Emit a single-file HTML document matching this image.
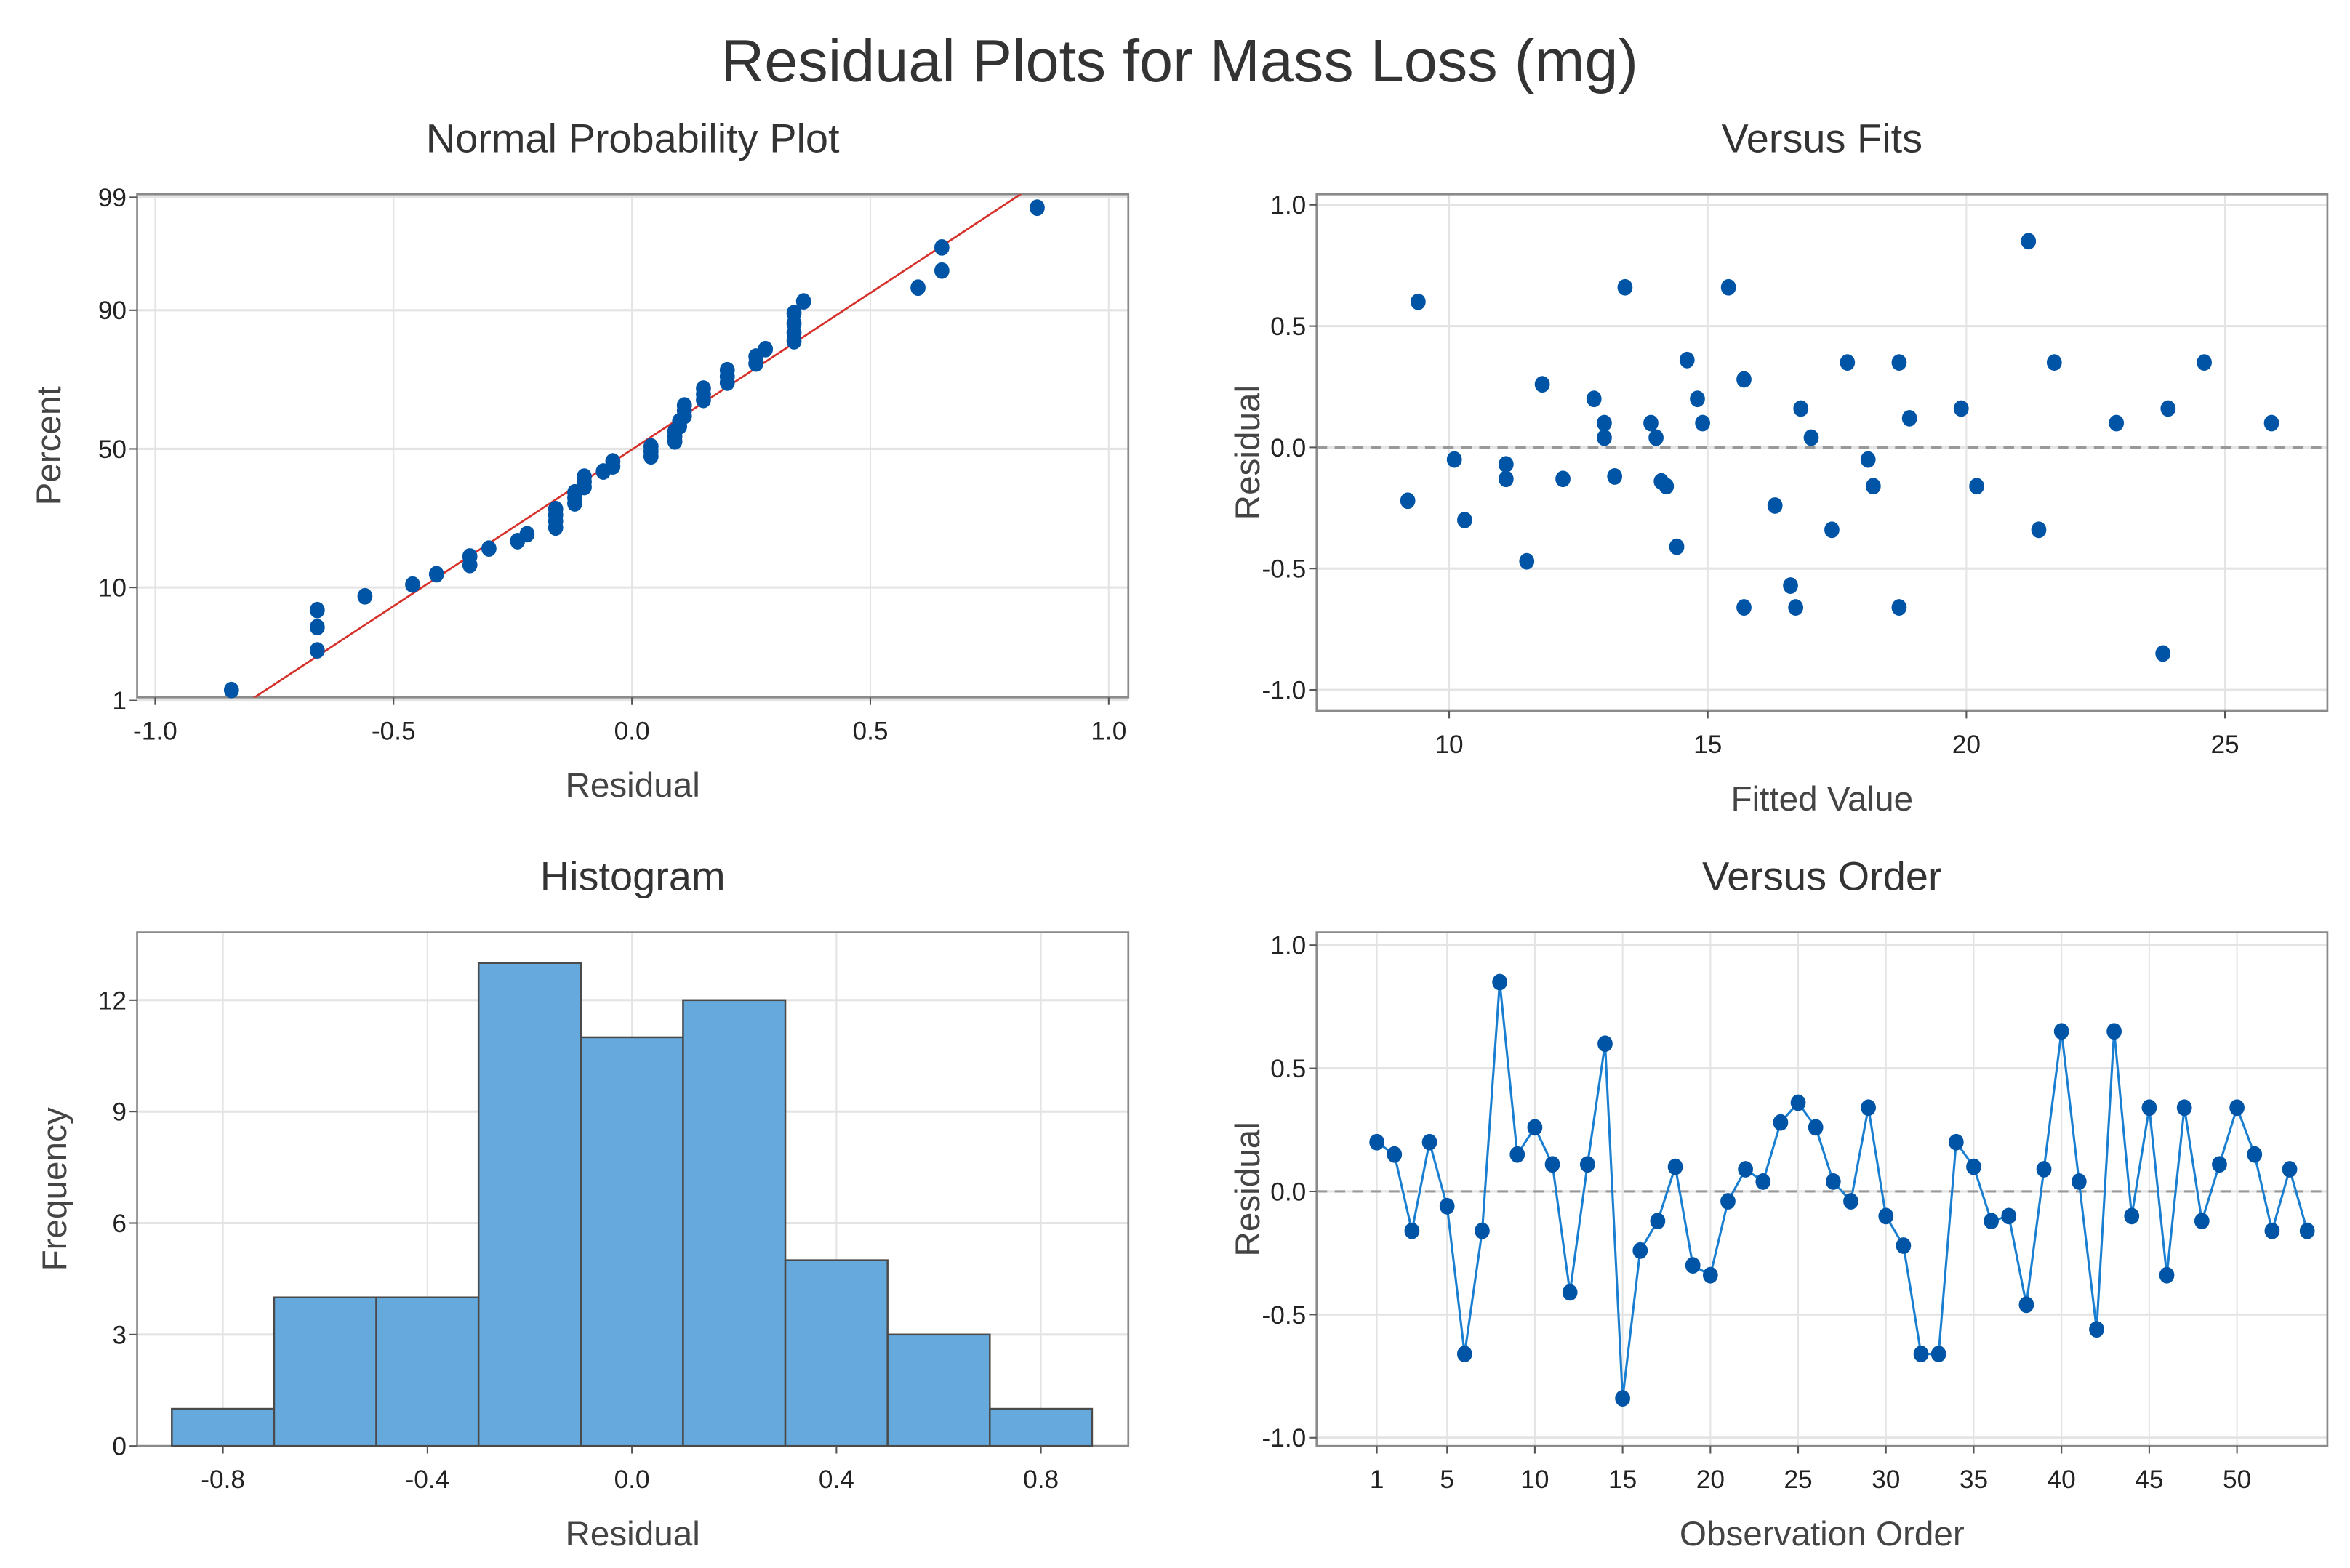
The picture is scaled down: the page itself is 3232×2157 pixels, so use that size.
<!DOCTYPE html>
<html><head><meta charset="utf-8"><style>
html,body{margin:0;padding:0;background:#fff;}
svg{display:block;font-family:"Liberation Sans",sans-serif;}
</style></head><body>
<svg id="root" width="3232" height="2157" viewBox="0 0 1560 1041" preserveAspectRatio="none" xmlns="http://www.w3.org/2000/svg">
<text x="783" y="54" text-anchor="middle" font-size="40" fill="#333">Residual Plots for Mass Loss (mg)</text>
<g id="g"></g>
</svg>
<script>
// ---- data ----
const residuals = [0.20,0.15,-0.16,0.20,-0.06,-0.66,-0.16,0.85,0.15,0.26,0.11,-0.41,0.11,0.60,-0.84,-0.24,-0.12,0.10,-0.30,-0.34,-0.04,0.09,0.04,0.28,0.36,0.26,0.04,-0.04,0.34,-0.10,-0.22,-0.66,-0.66,0.20,0.10,-0.12,-0.10,-0.46,0.09,0.65,0.04,-0.56,0.65,-0.10,0.34,-0.34,0.34,-0.12,0.11,0.34,0.15,-0.16,0.09,-0.16];
const fitX = [9.2,9.4,10.1,10.3,11.1,11.1,11.5,11.8,12.2,12.8,13.0,13.0,13.2,13.4,13.9,14.0,14.1,14.2,14.4,14.6,14.8,14.9,15.4,15.7,15.7,16.3,16.6,16.7,16.8,17.0,17.4,17.7,18.1,18.2,18.7,18.7,18.9,19.9,20.2,21.2,21.4,21.7,22.9,23.8,23.9,24.6,25.9];
const fitY = [-0.22,0.60,-0.05,-0.30,-0.07,-0.13,-0.47,0.26,-0.13,0.20,0.10,0.04,-0.12,0.66,0.10,0.04,-0.14,-0.16,-0.41,0.36,0.20,0.10,0.66,0.28,-0.66,-0.24,-0.57,-0.66,0.16,0.04,-0.34,0.35,-0.05,-0.16,0.35,-0.66,0.12,0.16,-0.16,0.85,-0.34,0.35,0.10,-0.85,0.16,0.35,0.10];
const histEdges = [-0.9,-0.7,-0.5,-0.3,-0.1,0.1,0.3,0.5,0.7,0.9];
const histCounts = [1,4,4,13,11,12,5,3,1];
const nppXTicks = ["-1.0","-0.5","0.0","0.5","1.0"];
const nppYTicks = [1,10,50,90,99];
const fitsXTicks = [10,15,20,25];
const resTicks = ["1.0","0.5","0.0","-0.5","-1.0"];
const histXTicks = ["-0.8","-0.4","0.0","0.4","0.8"];
const histYTicks = [0,3,6,9,12];
const orderXTicks = [1,5,10,15,20,25,30,35,40,45,50];

const NS="http://www.w3.org/2000/svg";
const G=document.getElementById('g');
function el(tag,attrs,parent){const e=document.createElementNS(NS,tag);for(const k in attrs)e.setAttribute(k,attrs[k]);(parent||G).appendChild(e);return e;}
function txt(s,attrs,parent){const e=el('text',attrs,parent);e.textContent=s;return e;}
const BLUE="#0054a6";
function dot(x,y,name,parent){const d=el('ellipse',{cx:x,cy:y,rx:5,ry:5.5,fill:BLUE},parent);return d;}
function panel(name,L,R,T,B){const g=el('g',{});return g;}
function frame(g,L,R,T,B){const r=el('rect',{x:L,y:T,width:R-L,height:B-T,fill:'none',stroke:'#8a8a8a','stroke-width':1.3},g);}
function vgrid(g,x,T,B){el('line',{x1:x,x2:x,y1:T,y2:B,stroke:'#e4e4e4','stroke-width':1},g);}
function hgrid(g,y,L,R){el('line',{x1:L,x2:R,y1:y,y2:y,stroke:'#e4e4e4','stroke-width':1.5},g);}
function xtick(g,x,B,s){el('line',{x1:x,x2:x,y1:B,y2:B+5,stroke:'#555'},g);const t=txt(s,{x:x,y:B+28,'text-anchor':'middle','font-size':17,fill:'#222'},g);}
function ytick(g,y,L,s){el('line',{x1:L-5,x2:L,y1:y,y2:y,stroke:'#555'},g);const t=txt(s,{x:L-7,y:y+6,'text-anchor':'end','font-size':17,fill:'#222'},g);}
function titles(g,title,xt,yt,L,R,T,B,ytx){
 let t=txt(title,{x:(L+R)/2,y:T-28,'text-anchor':'middle','font-size':27,fill:'#333'},g);
 t=txt(xt,{x:(L+R)/2,y:B+66,'text-anchor':'middle','font-size':23,fill:'#444'},g);
 t=txt(yt,{x:0,y:0,'text-anchor':'middle','font-size':23,fill:'#444',transform:`translate(${ytx},${(T+B)/2}) rotate(-90)`},g);
}
// inverse normal
function invN(p){const a=[-39.69683028665376,220.9460984245205,-275.9285104469687,138.357751867269,-30.66479806614716,2.506628277459239],b=[-54.47609879822406,161.5858368580409,-155.6989798598866,66.80131188771972,-13.28068155288572],c=[-0.007784894002430293,-0.3223964580411365,-2.400758277161838,-2.549732539343734,4.374664141464968,2.938163982698783],d=[0.007784695709041462,0.3224671290700398,2.445134137142996,3.754408661907416];
 const pl=0.02425;let q,r;
 if(p<pl){q=Math.sqrt(-2*Math.log(p));return(((((c[0]*q+c[1])*q+c[2])*q+c[3])*q+c[4])*q+c[5])/((((d[0]*q+d[1])*q+d[2])*q+d[3])*q+1);}
 if(p<=1-pl){q=p-0.5;r=q*q;return(((((a[0]*r+a[1])*r+a[2])*r+a[3])*r+a[4])*r+a[5])*q/(((((b[0]*r+b[1])*r+b[2])*r+b[3])*r+b[4])*r+1);}
 q=Math.sqrt(-2*Math.log(1-p));return-(((((c[0]*q+c[1])*q+c[2])*q+c[3])*q+c[4])*q+c[5])/((((d[0]*q+d[1])*q+d[2])*q+d[3])*q+1);}

// ---- Normal probability plot ----
(function(){const L=91,R=749,T=129,B=463;const g=panel('normal-probability-plot');
 const sx=v=>103+(v+1)*(736-103)/2; const sy=p=>298-invN(p/100)*71.8;
 nppXTicks.forEach(s=>vgrid(g,sx(+s),T,B)); nppYTicks.forEach(p=>hgrid(g,sy(p),L,R));
 frame(g,L,R,T,B);
 nppXTicks.forEach(s=>xtick(g,sx(+s),B,s)); nppYTicks.forEach(p=>ytick(g,sy(p),L,String(p)));
 const n=residuals.length,mean=residuals.reduce((a,b)=>a+b,0)/n;
 const sd=Math.sqrt(residuals.reduce((a,b)=>a+(b-mean)*(b-mean),0)/(n-1));
 const x1=mean+sd*invN(0.005),x2=mean+sd*invN(0.995);
 const cp=el('clipPath',{id:'nppclip'},g);el('rect',{x:L,y:T,width:R-L,height:B-T},cp);
 const ln=el('line',{x1:sx(x1),y1:298-invN(0.005)*71.8,x2:sx(x2),y2:298-invN(0.995)*71.8,stroke:'#d6302a','stroke-width':1.3,'clip-path':'url(#nppclip)'},g);
 
 const s=residuals.slice().sort((a,b)=>a-b);
 s.forEach((v,i)=>{const p=100*(i+1-0.3)/(n+0.4);dot(sx(v),sy(p),'npp-point',g);});
 titles(g,'Normal Probability Plot','Residual','Percent',L,R,T,B,40);
})();

// ---- Versus fits ----
(function(){const L=874,R=1545,T=129,B=472;const g=panel('versus-fits-plot');
 const sx=v=>962+(v-10)*(1477-962)/15; const sy=v=>297-v*161;
 fitsXTicks.forEach(v=>vgrid(g,sx(v),T,B)); resTicks.forEach(s=>hgrid(g,sy(+s),L,R));
 el('line',{x1:L,x2:R,y1:sy(0),y2:sy(0),stroke:'#999','stroke-width':1.5,'stroke-dasharray':'7,5'},g);
 frame(g,L,R,T,B);
 fitsXTicks.forEach(v=>xtick(g,sx(v),B,String(v))); resTicks.forEach(s=>ytick(g,sy(+s),L,s));
 fitX.forEach((x,i)=>dot(sx(x),sy(fitY[i]),'fits-point',g));
 titles(g,'Versus Fits','Fitted Value','Residual',L,R,T,B,836);
})();

// ---- Histogram ----
(function(){const L=91,R=749,T=619,B=960;const g=panel('histogram');
 const sx=v=>148+(v+0.8)*(691-148)/1.6; const sy=v=>960-v*(960-664)/12;
 histXTicks.forEach(s=>vgrid(g,sx(+s),T,B)); histYTicks.forEach(v=>hgrid(g,sy(v),L,R));
 frame(g,L,R,T,B);
 histCounts.forEach((c,i)=>{const r=el('rect',{x:sx(histEdges[i]),y:sy(c),width:sx(histEdges[i+1])-sx(histEdges[i]),height:sy(0)-sy(c),fill:'#66a9dc',stroke:'#4a4a4a','stroke-width':1.2},g);
  });
 histXTicks.forEach(s=>xtick(g,sx(+s),B,s)); histYTicks.forEach(v=>ytick(g,sy(v),L,String(v)));
 titles(g,'Histogram','Residual','Frequency',L,R,T,B,44);
})();

// ---- Versus order ----
(function(){const L=874,R=1545,T=619,B=960;const g=panel('versus-order-plot');
 const sx=v=>914+(v-1)*(1485-914)/49; const sy=v=>791-v*163.5;
 orderXTicks.forEach(v=>vgrid(g,sx(v),T,B)); resTicks.forEach(s=>hgrid(g,sy(+s),L,R));
 el('line',{x1:L,x2:R,y1:sy(0),y2:sy(0),stroke:'#999','stroke-width':1.5,'stroke-dasharray':'7,5'},g);
 frame(g,L,R,T,B);
 orderXTicks.forEach(v=>xtick(g,sx(v),B,String(v))); resTicks.forEach(s=>ytick(g,sy(+s),L,s));
 const pts=residuals.map((v,i)=>sx(i+1)+','+sy(v)).join(' ');
 const pl=el('polyline',{points:pts,fill:'none',stroke:'#1a7fd1','stroke-width':1.5},g);
 
 residuals.forEach((v,i)=>dot(sx(i+1),sy(v),'order-point',g));
 titles(g,'Versus Order','Observation Order','Residual',L,R,T,B,836);
})();
</script>
</body></html>
